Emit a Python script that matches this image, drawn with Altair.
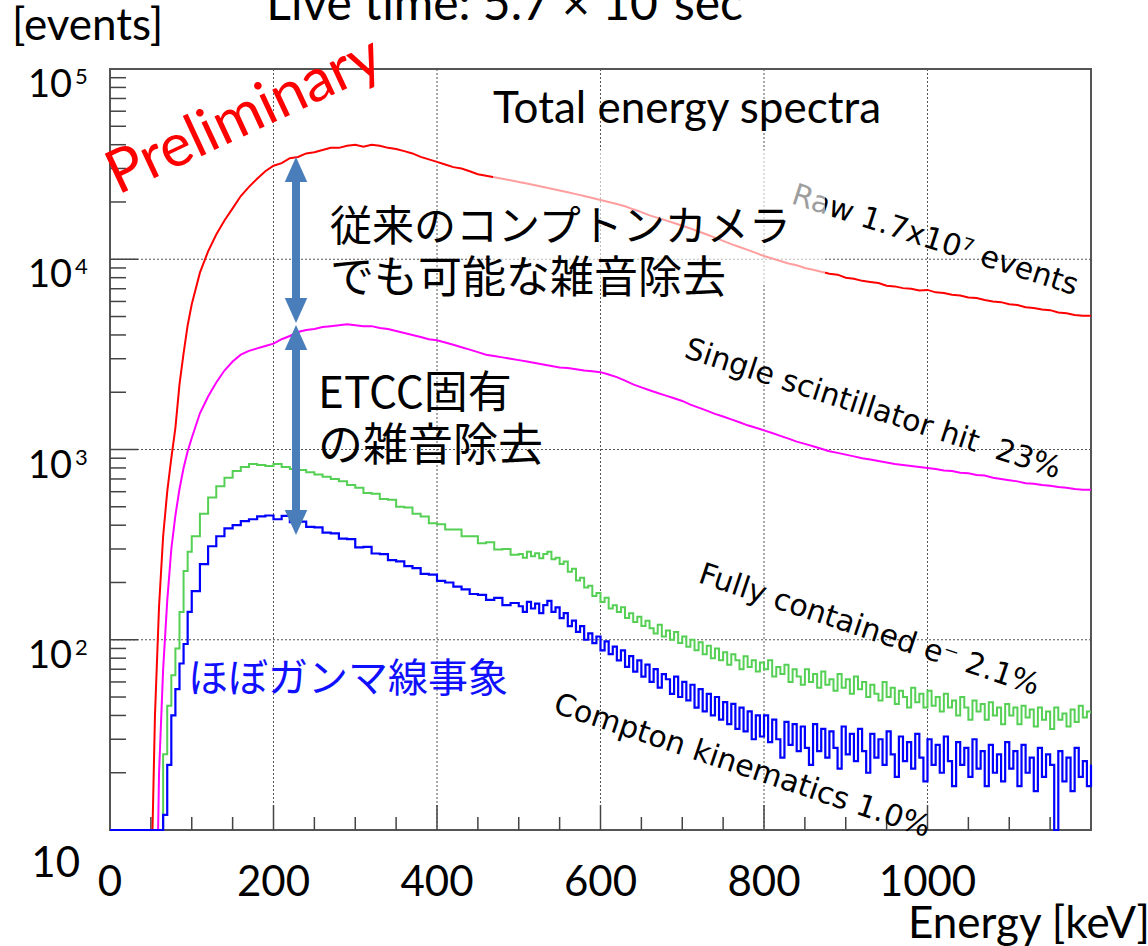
import altair as alt
import pandas as pd

# ---------------- data ----------------
energy_keV = [0, 40, 45, 50, 55, 60, 65, 70, 75, 80, 85, 90, 95,
              100, 110, 120, 130, 140, 150, 160, 170, 180, 190,
              200, 210, 220, 230, 240, 250, 260, 270, 280, 290,
              300, 310, 320, 330, 340, 350, 360, 370, 380, 390,
              400, 410, 420, 430, 440, 450, 460, 470, 480, 490,
              500, 510, 520, 530, 540, 550, 560, 570, 580, 590,
              600, 610, 620, 630, 640, 650, 660, 670, 680, 690,
              700, 710, 720, 730, 740, 750, 760, 770, 780, 790,
              800, 810, 820, 830, 840, 850, 860, 870, 880, 890,
              900, 910, 920, 930, 940, 950, 960, 970, 980, 990,
              1000, 1010, 1020, 1030, 1040, 1050, 1060, 1070, 1080, 1090,
              1100, 1110, 1120, 1130, 1140, 1150, 1160, 1170, 1180, 1190,
              1200]

# finer sampling of the noisy tails (lower two spectra)
energy_fine_keV = [0, 40, 45, 50, 55, 60, 65, 70, 75, 80, 85, 90, 95,
                   100, 110, 120, 130, 140, 150, 160, 170, 180, 190,
                   200, 210, 220, 230, 240, 250, 260, 270, 280, 290,
                   300, 310, 320, 330, 340, 350, 360, 370, 380, 390,
                   400, 410, 420, 430, 440, 450, 460, 470, 480, 490,
                   500, 505, 510, 515, 520, 525, 530, 535, 540, 545,
                   550, 555, 560, 565, 570, 575, 580, 585, 590, 595,
                   600, 605, 610, 615, 620, 625, 630, 635, 640, 645,
                   650, 655, 660, 665, 670, 675, 680, 685, 690, 695,
                   700, 705, 710, 715, 720, 725, 730, 735, 740, 745,
                   750, 755, 760, 765, 770, 775, 780, 785, 790, 795,
                   800, 805, 810, 815, 820, 825, 830, 835, 840, 845,
                   850, 855, 860, 865, 870, 875, 880, 885, 890, 895,
                   900, 905, 910, 915, 920, 925, 930, 935, 940, 945,
                   950, 955, 960, 965, 970, 975, 980, 985, 990, 995,
                   1000, 1005, 1010, 1015, 1020, 1025, 1030, 1035, 1040, 1045,
                   1050, 1055, 1060, 1065, 1070, 1075, 1080, 1085, 1090, 1095,
                   1100, 1105, 1110, 1115, 1120, 1125, 1130, 1135, 1140, 1145,
                   1150, 1155, 1160, 1165, 1170, 1175, 1180, 1185, 1190, 1195,
                   1200]

raw_counts = [1, 1, 1, 4, 40, 150, 350, 600, 900, 1300, 2200, 3200, 4500,
              5800, 8500, 11000, 13500, 16000, 18500, 21500, 24000, 26500, 29000,
              31000, 32000, 34000, 34500, 36000, 36500, 37500, 38500, 38500, 39500,
              40000, 39000, 40000, 39500, 38500, 38000, 37000, 36000, 34500, 33500,
              32500, 31500, 30500, 30000, 29000, 28000, 27500, 27000, 26500, 26000,
              25500, 25000, 24500, 24000, 23500, 23000, 22500, 22000, 21500, 21000,
              20500, 20000, 19500, 19000, 18300, 17700, 17000, 16500, 16000, 15500,
              15000, 14500, 14000, 13500, 13000, 12500, 12000, 11600, 11200, 10800,
              10400, 10100, 9800, 9500, 9300, 9000, 8800, 8600, 8400, 8300,
              8000, 7900, 7700, 7600, 7500, 7250, 7200, 7050, 7000, 6850,
              6900, 6700, 6650, 6500, 6450, 6300, 6250, 6100, 6000, 5950,
              5800, 5750, 5600, 5550, 5450, 5400, 5250, 5200, 5100, 5050,
              5050]

single_hit_counts = [1, 1, 1, 1, 1, 20, 70, 160, 300, 450, 620, 800, 980,
                     1150, 1550, 1900, 2250, 2600, 2900, 3150, 3300, 3400, 3500,
                     3600, 3800, 3950, 4150, 4250, 4300, 4400, 4450, 4500, 4550,
                     4500, 4450, 4450, 4350, 4300, 4200, 4100, 4000, 3900, 3800,
                     3750, 3650, 3550, 3450, 3350, 3250, 3150, 3100, 3050, 3000,
                     2950, 2900, 2850, 2800, 2750, 2700, 2680, 2640, 2600, 2580,
                     2550, 2480, 2400, 2300, 2200, 2120, 2050, 1980, 1920, 1860,
                     1800, 1720, 1660, 1600, 1540, 1490, 1440, 1390, 1340, 1300,
                     1260, 1220, 1180, 1140, 1100, 1070, 1040, 1010, 980, 960,
                     940, 920, 900, 885, 870, 855, 840, 830, 820, 810,
                     800, 790, 775, 770, 755, 750, 735, 730, 710, 700,
                     690, 680, 665, 660, 650, 645, 635, 630, 620, 615,
                     615]

fully_contained_counts = [1, 1, 1, 1, 1, 5, 25, 45, 65, 90, 140, 230, 290,
                          350, 460, 560, 640, 710, 770, 810, 840, 830, 820,
                          840, 810, 790, 780, 760, 740, 720, 700, 680, 650,
                          630, 590, 585, 550, 545, 500, 495, 460, 445, 410,
                          405, 380, 380, 350, 350, 322, 325, 298, 300, 280,
                          282, 270, 290, 275, 285, 268, 282, 290, 265, 270,
                          250, 258, 228, 236, 205, 212, 188, 192, 170, 176,
                          158, 166, 146, 152, 140, 148, 130, 138, 124, 132,
                          118, 126, 115, 108, 120, 104, 112, 100, 110, 96,
                          104, 92, 100, 88, 97, 84, 93, 80, 90, 78,
                          86, 74, 84, 78, 70, 82, 72, 78, 68, 76,
                          70, 78, 64, 72, 66, 74, 60, 70, 64, 58,
                          70, 60, 66, 56, 68, 58, 62, 54, 66, 56,
                          62, 52, 64, 55, 60, 50, 58, 52, 48, 60,
                          50, 56, 46, 54, 50, 44, 56, 47, 52, 44,
                          54, 45, 50, 42, 52, 44, 48, 40, 50, 44,
                          38, 48, 42, 46, 38, 47, 40, 44, 36, 46,
                          40, 44, 36, 45, 39, 43, 35, 44, 38, 42,
                          34, 44, 38, 41, 35, 43, 37, 45, 39, 42,
                          41]

compton_counts = [10, 10, 10, 10, 10, 10, 12, 22, 40, 55, 75, 95, 140,
                  180, 250, 310, 350, 385, 400, 420, 430, 445, 450,
                  430, 448, 415, 418, 392, 390, 366, 362, 340, 338,
                  306, 308, 284, 282, 262, 258, 244, 238, 222, 220,
                  204, 200, 190, 184, 174, 172, 162, 166, 152, 156,
                  150, 140, 158, 146, 155, 138, 152, 160, 140, 148,
                  130, 138, 118, 126, 110, 118, 100, 108, 96, 104,
                  88, 98, 84, 92, 78, 88, 72, 82, 68, 78,
                  64, 74, 60, 70, 56, 66, 62, 52, 64, 50,
                  60, 48, 58, 44, 55, 42, 52, 40, 50, 38,
                  47, 36, 46, 34, 44, 33, 42, 30, 40, 31,
                  40, 29, 38, 30, 24, 37, 28, 36, 26, 35,
                  27, 22, 36, 26, 34, 24, 33, 27, 21, 35,
                  25, 32, 23, 34, 26, 20, 32, 24, 30, 22,
                  33, 25, 19, 31, 23, 29, 21, 32, 24, 18,
                  30, 22, 28, 20, 31, 23, 17, 29, 22, 27,
                  19, 30, 21, 26, 17, 28, 20, 25, 18, 29,
                  21, 26, 17, 28, 20, 24, 16, 27, 19, 25,
                  22, 10, 26, 18, 24, 16, 27, 19, 23, 17,
                  22]

x_major_ticks = [200, 400, 600, 800, 1000]
x_minor_ticks = [50, 100, 150, 250, 300, 350, 450, 500, 550, 650, 700, 750,
                 850, 900, 950, 1050, 1100, 1150]
x_tick_labels = [0, 200, 400, 600, 800, 1000]
y_major_ticks = [100, 1000, 10000]
y_minor_ticks = [20, 30, 40, 50, 60, 70, 80, 90,
                 200, 300, 400, 500, 600, 700, 800, 900,
                 2000, 3000, 4000, 5000, 6000, 7000, 8000, 9000,
                 20000, 30000, 40000, 50000, 60000, 70000, 80000, 90000]
y_label_values = [100000, 10000, 1000, 100]
y_label_exponents = ["5", "4", "3", "2"]

# ---------------- chart ----------------
W, H = 981, 761
xs = alt.Scale(domain=[0, 1200], nice=False, zero=False)
ys = alt.Scale(type="log", domain=[10, 100000], nice=False)

dummy = pd.DataFrame({"k": [0]})
AXC = "#444444"
LATIN = "Lato"
CJK = "Noto Sans CJK JP"
ROT = "DejaVu Sans"


def text(t, x, y, size, color="black", font=LATIN, angle=0, align="left",
         baseline="alphabetic"):
    return alt.Chart(dummy).mark_text(
        text=t, fontSize=size, font=font, color=color, angle=angle,
        align=align, baseline=baseline
    ).encode(x=alt.value(x), y=alt.value(y))


def spectrum(energies, counts, color, interp="linear", clip=True, width=2):
    df = pd.DataFrame({"E": energies, "count": counts})
    return alt.Chart(df).mark_line(
        interpolate=interp, strokeWidth=width, clip=clip, color=color
    ).encode(
        x=alt.X("E:Q", scale=xs, axis=None),
        y=alt.Y("count:Q", scale=ys, axis=None),
    )


grid_x = alt.Chart(pd.DataFrame({"v": x_major_ticks})).mark_rule(
    color="#555555", strokeWidth=1, strokeDash=[2, 2]
).encode(x=alt.X("v:Q", scale=xs, axis=None))

grid_y = alt.Chart(pd.DataFrame({"v": y_major_ticks})).mark_rule(
    color="#555555", strokeWidth=1, strokeDash=[2, 2]
).encode(y=alt.Y("v:Q", scale=ys, axis=None))

tick_x_minor = alt.Chart(pd.DataFrame({"v": x_minor_ticks})).mark_rule(
    color=AXC, strokeWidth=1.5
).encode(x=alt.X("v:Q", scale=xs, axis=None), y=alt.value(H), y2=alt.value(H - 13))

tick_x_major = alt.Chart(pd.DataFrame({"v": x_major_ticks})).mark_rule(
    color=AXC, strokeWidth=1.5
).encode(x=alt.X("v:Q", scale=xs, axis=None), y=alt.value(H), y2=alt.value(H - 25))

tick_y_minor = alt.Chart(pd.DataFrame({"v": y_minor_ticks})).mark_rule(
    color=AXC, strokeWidth=1.5
).encode(y=alt.Y("v:Q", scale=ys, axis=None), x=alt.value(0), x2=alt.value(16))

tick_y_major = alt.Chart(pd.DataFrame({"v": y_major_ticks})).mark_rule(
    color=AXC, strokeWidth=1.5
).encode(y=alt.Y("v:Q", scale=ys, axis=None), x=alt.value(0), x2=alt.value(28))

line_raw = spectrum(energy_keV, raw_counts, "#ff0000")
line_single = spectrum(energy_keV, single_hit_counts, "#ff00ff")
line_full = spectrum(energy_fine_keV, fully_contained_counts, "#55d055", interp="step-after")
line_compton = spectrum(energy_fine_keV, compton_counts, "#0000ff", interp="step-after",
                        clip=False, width=2.2)

raw_label = text("Raw 1.7x10\u2077 events", 680, 134, 30, font=ROT, angle=18)

veil = alt.Chart(dummy).mark_rect(color="white", opacity=0.62).encode(
    x=alt.value(383), x2=alt.value(715), y=alt.value(81), y2=alt.value(216)
)

labels = [
    text("Single scintillator hit\u00a0 23%", 573, 288, 30, font=ROT, angle=18),
    text("Fully contained e\u207b 2.1%", 587, 513, 30, font=ROT, angle=18.5),
    text("Compton kinematics 1.0%", 442, 643, 30, font=ROT, angle=18.5),
    text("Total energy spectra", 383, 54, 44),
    text("Preliminary", 8, 126, 60, color="#ff0000", angle=335),
    text("従来のコンプトンカメラ", 220, 172, 42, font=CJK),
    text("でも可能な雑音除去", 220, 224, 44, font=CJK),
    text("ETCC固有", 208, 339, 44, font=CJK),
    text("の雑音除去", 208, 392, 45, font=CJK),
    text("ほぼガンマ線事象", 78, 623, 40, color="#1010ff", font=CJK),
    text("[events]", -98, -29, 44),
    text("Live time: 5.7 \u00d7 10\u2074sec", 633, -49, 48, align="right"),
    text("Energy [keV]", 798, 869, 44),
    text("10", -30, 808, 42, align="right"),
]

ARROW = "#4a7ebb"
ax = 186
shafts = [
    alt.Chart(dummy).mark_rule(color=ARROW, strokeWidth=8).encode(
        x=alt.value(ax), y=alt.value(104), y2=alt.value(238)),
    alt.Chart(dummy).mark_rule(color=ARROW, strokeWidth=8).encode(
        x=alt.value(ax), y=alt.value(272), y2=alt.value(450)),
]
UP = "M0,0L-0.9,2L0.9,2Z"
DOWN = "M0,0L-0.9,-2L0.9,-2Z"
heads = []
for shape, yy in [(UP, 88), (DOWN, 254), (UP, 256), (DOWN, 466)]:
    heads.append(alt.Chart(dummy).mark_point(
        shape=shape, size=625, filled=True, color=ARROW, opacity=1, strokeWidth=0
    ).encode(x=alt.value(ax), y=alt.value(yy)))

x_labels = alt.Chart(pd.DataFrame({"v": x_tick_labels})).mark_text(
    fontSize=42, font=LATIN, align="center", baseline="alphabetic", color="black"
).encode(x=alt.X("v:Q", scale=xs, axis=None), y=alt.value(827), text=alt.Text("v:Q"))

y_labels = alt.Chart(pd.DataFrame({"v": y_label_values})).mark_text(
    text="10", fontSize=38, font=LATIN, align="right", baseline="alphabetic",
    color="black", dy=28
).encode(y=alt.Y("v:Q", scale=ys, axis=None), x=alt.value(-38))

y_exps = alt.Chart(pd.DataFrame({"v": y_label_values, "e": y_label_exponents})).mark_text(
    fontSize=22, font=LATIN, align="left", baseline="alphabetic", color="black", dy=15
).encode(y=alt.Y("v:Q", scale=ys, axis=None), x=alt.value(-35), text="e:N")

chart = alt.layer(
    grid_x, grid_y, tick_x_minor, tick_x_major, tick_y_minor, tick_y_major,
    line_raw, line_single, line_full, line_compton,
    raw_label, veil, *labels, *shafts, *heads, x_labels, y_labels, y_exps
).properties(
    width=W, height=H,
    autosize=alt.AutoSizeParams(type="none"),
    padding={"left": 110, "top": 69, "right": 57, "bottom": 116},
).configure_view(stroke="#555555", strokeWidth=2)

chart.save("out.html", embed_options={"renderer": "svg", "actions": False})
